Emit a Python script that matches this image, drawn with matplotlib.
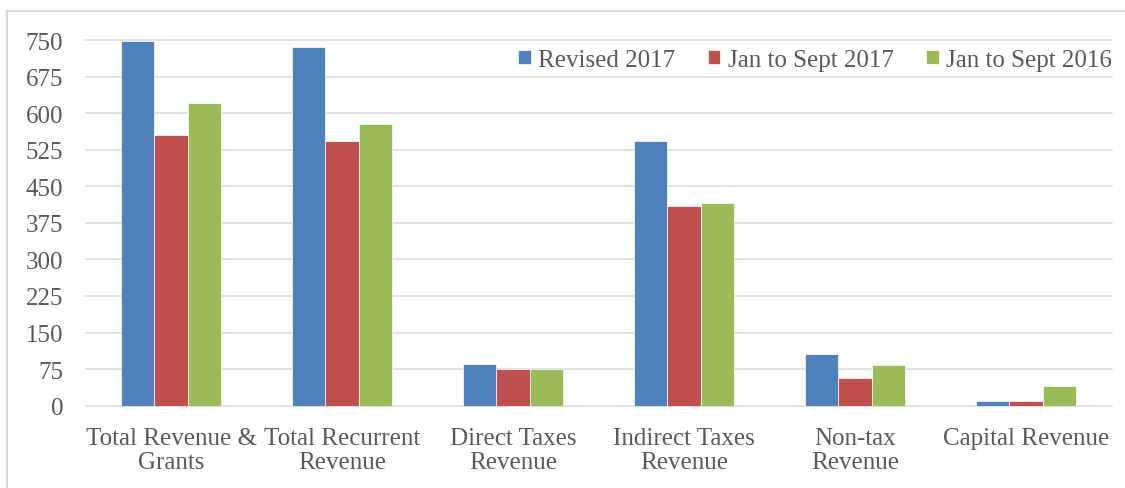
import matplotlib.pyplot as plt
import numpy as np
from matplotlib.patches import Rectangle

plt.rcParams["font.family"] = ["Liberation Serif", "DejaVu Serif"]

categories = [
    "Total Revenue &\nGrants",
    "Total Recurrent\nRevenue",
    "Direct Taxes\nRevenue",
    "Indirect Taxes\nRevenue",
    "Non-tax\nRevenue",
    "Capital Revenue",
]
revised_2017 = [748, 736, 86, 542, 107, 10]
jan_sept_2017 = [555, 542, 75, 410, 56, 10]
jan_sept_2016 = [620, 577, 76, 415, 84, 41]

series_labels = ["Revised 2017", "Jan to Sept 2017", "Jan to Sept 2016"]
colors = ["#4F81BD", "#C0504D", "#9BBB59"]
yticks = list(range(0, 751, 75))

text_color = "#595959"

fig = plt.figure(figsize=(11.25, 4.89), dpi=100)
ax = fig.add_axes([85.5 / 1125, 1 - 406.7 / 489, 1026 / 1125, 365.7 / 489])

x = np.arange(len(categories))
width = 0.194
for i, (vals, label, color) in enumerate(
    zip([revised_2017, jan_sept_2017, jan_sept_2016], series_labels, colors)
):
    ax.bar(x + (i - 1) * width, vals, width, color=color, label=label,
           edgecolor="#ffffff", linewidth=0.5, zorder=3)

ax.set_xlim(-0.5, len(categories) - 0.5)
ax.set_ylim(0, 750)
ax.set_yticks(yticks)
ax.set_xticks(x)
ax.set_xticklabels(categories, linespacing=1.15)

ax.grid(axis="y", color="#D9D9D9", linewidth=1.1)
for line in ax.get_ygridlines():
    line.set_clip_on(False)
ax.set_axisbelow(True)
for spine in ax.spines.values():
    spine.set_visible(False)

ax.tick_params(axis="y", length=0, pad=16, labelsize=18, labelcolor=text_color)
ax.tick_params(axis="x", length=0, pad=15, labelsize=18, labelcolor=text_color)

ax.legend(loc="center right", bbox_to_anchor=(1112 / 1125, 1 - 61 / 489),
          bbox_transform=fig.transFigure, ncol=3, frameon=False, fontsize=18,
          handlelength=0.5, handleheight=0.5, handletextpad=0.3,
          columnspacing=1.3, borderpad=0, borderaxespad=0, labelcolor=text_color)

# outer chart border
fig.patches.append(Rectangle((7 / 1125, -0.1), 1.2, 1 - 12 / 489 + 0.1,
                             transform=fig.transFigure, fill=False,
                             edgecolor="#D9D9D9", linewidth=1.5))

fig.savefig("out.png", dpi=100)
